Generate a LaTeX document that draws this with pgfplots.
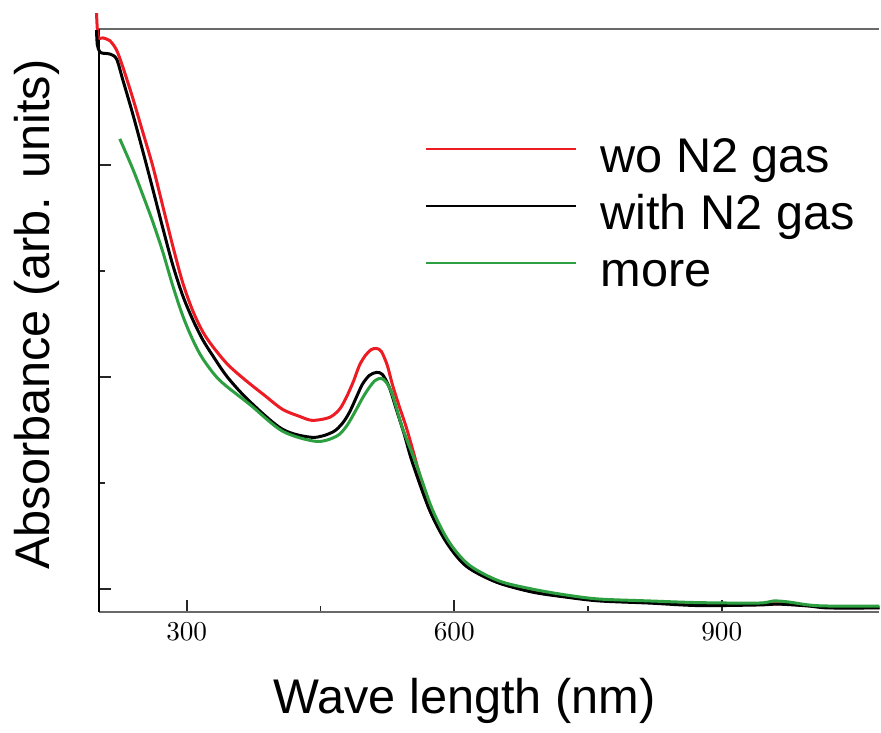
\documentclass[border=0pt]{standalone}
\usepackage{fontspec}
\setmainfont{Liberation Sans}
\usepackage{pgfplots}
\pgfplotsset{compat=1.18}
\definecolor{cred}{RGB}{237,28,36}
\definecolor{cgreen}{RGB}{44,160,64}
\definecolor{cgray}{RGB}{105,105,105}
\newcommand{\lab}{\fontsize{19.5bp}{23bp}\selectfont}

% absorbance spectra
\pgfplotstableread{
x y
198.9 2.715
200.7 2.604
206.0 2.598
213.8 2.585
221.3 2.541
228.4 2.461
239.5 2.315
250.7 2.155
261.9 1.995
273.1 1.807
284.3 1.619
295.5 1.445
306.7 1.313
317.9 1.214
329.1 1.144
345.9 1.059
364.9 0.988
387.3 0.913
407.5 0.847
426.5 0.814
441.1 0.795
460.1 0.809
471.3 0.847
479.1 0.904
487.0 0.979
493.7 1.054
500.4 1.101
507.1 1.129
512.7 1.134
518.3 1.120
525.0 1.054
530.6 0.965
538.4 0.861
546.3 0.762
555.2 0.631
563.1 0.508
572.0 0.378
591.1 0.225
613.4 0.110
647.0 0.035
687.3 -0.012
725.4 -0.036
762.3 -0.053
818.3 -0.063
874.3 -0.074
941.4 -0.073
963.8 -0.070
997.4 -0.078
1019.8 -0.087
1076.9 -0.087
}\woN

\pgfplotstableread{
x y
198.9 2.635
199.8 2.565
202.6 2.532
207.1 2.525
213.8 2.522
221.3 2.499
228.4 2.400
239.5 2.240
250.7 2.066
261.9 1.887
273.1 1.704
284.3 1.529
295.5 1.384
306.7 1.271
317.9 1.176
329.1 1.101
345.9 0.998
370.5 0.885
407.5 0.753
441.1 0.715
463.4 0.739
474.6 0.781
482.5 0.833
490.3 0.904
497.0 0.965
504.9 1.007
512.7 1.021
519.4 1.012
527.2 0.951
535.1 0.847
544.0 0.729
553.0 0.598
572.0 0.376
591.1 0.221
613.4 0.108
647.0 0.033
687.3 -0.014
725.4 -0.038
762.3 -0.056
818.3 -0.066
874.3 -0.078
941.4 -0.075
963.8 -0.071
997.4 -0.080
1019.8 -0.089
1076.9 -0.089
}\withN

\pgfplotstableread{
x y
225.0 2.122
239.5 1.981
250.7 1.859
261.9 1.732
273.1 1.591
284.3 1.431
295.5 1.289
306.7 1.176
317.9 1.087
337.0 0.984
370.5 0.871
407.5 0.744
445.5 0.696
467.9 0.720
479.1 0.767
490.3 0.847
497.0 0.899
504.9 0.951
511.6 0.984
518.3 0.993
523.9 0.974
530.6 0.918
541.8 0.762
557.5 0.588
575.4 0.376
594.4 0.221
616.8 0.113
650.4 0.038
687.3 0.000
725.4 -0.028
762.3 -0.047
818.3 -0.056
874.3 -0.064
941.4 -0.066
958.2 -0.056
975.0 -0.061
997.4 -0.075
1019.8 -0.080
1076.9 -0.080
}\more

\begin{document}
\begin{tikzpicture}
\begin{axis}[
  scale only axis, width=312.7bp, height=233.6bp,
  xmin=201.8, xmax=1076.9, ymin=-0.108, ymax=2.64,
  clip=false,
  axis x line=box, axis y line=left, separate axis lines,
  x axis line style={cgray, line width=0.8bp, -},
  y axis line style={black, line width=0.8bp, -},
  xtick={300,600,900}, minor x tick num=1,
  ytick={0,1,2}, minor y tick num=1, yticklabels={},
  xtick pos=left, ytick pos=left, tick align=inside,
  major tick length=4.6bp, minor tick length=2.4bp,
  tick style={black!85, line width=0.7bp},
  xticklabel style={font=\fontsize{10.5bp}{12bp}\selectfont, yshift=-1bp},
  xlabel={Wave length (nm)},
  x label style={font=\lab, at={(axis description cs:0.468,-0.175)}, anchor=base},
  ylabel={Absorbance (arb. units)},
  y label style={font=\lab, at={(axis description cs:-0.0631,0.51)}, anchor=base},
  legend cell align=left,
  legend style={at={(axis description cs:0.4167,0.817)}, anchor=north west,
    draw=none, fill=none, inner sep=0pt, font=\lab,
    row sep=3.3bp, column sep=9.6bp,
    nodes={inner sep=0pt, text height=14.6bp, text depth=4.9bp}},
  legend image code/.code={\draw[#1, line width=0.8bp] (0bp,4.5bp) -- (60bp,4.5bp);},
]
\addplot[cred, line width=1.2bp, smooth, tension=0.5] table {\woN};
\addlegendentry{wo N2 gas}
\addplot[black, line width=1.2bp, smooth, tension=0.5] table {\withN};
\addlegendentry{with N2 gas}
\addplot[cgreen, line width=1.2bp, smooth, tension=0.5] table {\more};
\addlegendentry{more}
\path (axis description cs:-0.127,-0.195) rectangle (axis description cs:1,1.0497);
\end{axis}
\end{tikzpicture}
\end{document}
